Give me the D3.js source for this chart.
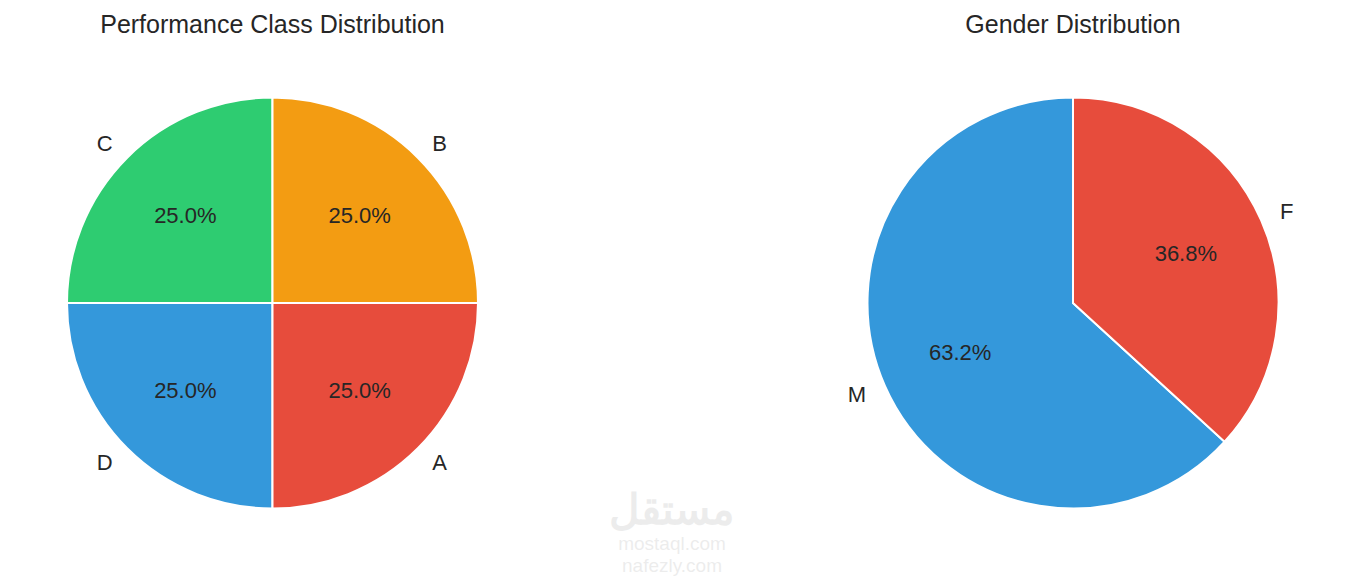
<!DOCTYPE html>
<html><head><meta charset="utf-8">
<script src="https://cdn.jsdelivr.net/npm/d3@7"></script>
<style>
body{margin:0;background:#fff;}
svg{display:block;font-family:"Liberation Sans",Arial,Helvetica,sans-serif;}
</style></head>
<body>
<svg id="chart" width="1345" height="576"></svg>
<script>
const perfCategories = ["C", "D", "A", "B"];
const perfValues = [25, 25, 25, 25];
const perfColors = ["#2ecc71", "#3498db", "#e74c3c", "#f39c12"];
const genderCategories = ["M", "F"];
const genderValues = [63.2, 36.8];
const genderColors = ["#3498db", "#e74c3c"];

const svg = d3.select("#chart");
const R = 205.5;

function drawPie(cx, cy, title, cats, vals, colors) {
  const g = svg.append("g").attr("transform", `translate(${cx},${cy})`);
  const data = cats.map((c, i) => ({cat: c, val: vals[i], color: colors[i]}));
  const pie = d3.pie().sort(null).value(d => d.val).startAngle(0).endAngle(-2 * Math.PI);
  const arcs = pie(data);
  const arc = d3.arc().innerRadius(0).outerRadius(R);
  const pctArc = d3.arc().innerRadius(R * 0.6).outerRadius(R * 0.6);
  const total = d3.sum(vals);
  g.selectAll("path.w").data(arcs).join("path")
    .attr("d", arc).attr("fill", d => d.data.color)
    .attr("stroke", "#fff").attr("stroke-width", 2).attr("stroke-linejoin", "round");
  g.selectAll("text.pct").data(arcs).join("text")
    .attr("x", d => pctArc.centroid(d)[0]).attr("y", d => pctArc.centroid(d)[1])
    .attr("text-anchor", "middle").attr("dominant-baseline", "central")
    .attr("font-size", 22).attr("fill", "#262626")
    .text(d => (d.data.val / total * 100).toFixed(1) + "%");
  g.selectAll("text.lab").data(arcs).join("text")
    .each(function(d) {
      const a = (d.startAngle + d.endAngle) / 2;
      const x = Math.sin(a) * R * 1.1, y = -Math.cos(a) * R * 1.1;
      d3.select(this).attr("x", x).attr("y", y)
        .attr("text-anchor", x >= 0 ? "start" : "end");
    })
    .attr("dominant-baseline", "central")
    .attr("font-size", 22).attr("fill", "#262626")
    .text(d => d.data.cat);
  svg.append("text").attr("x", cx).attr("y", 33).attr("text-anchor", "middle")
    .attr("font-size", 25).attr("fill", "#262626").text(title);
}

drawPie(272.5, 303, "Performance Class Distribution", perfCategories, perfValues, perfColors);
drawPie(1073, 303, "Gender Distribution", genderCategories, genderValues, genderColors);

// faint watermark
const wm = svg.append("g").attr("fill", "#000").attr("opacity", 0.07).attr("text-anchor", "middle");
wm.append("text").attr("x", 672).attr("y", 524).attr("font-size", 42).attr("font-weight", "bold").text("مستقل");
wm.append("text").attr("x", 672).attr("y", 550).attr("font-size", 19).text("mostaql.com");
wm.append("text").attr("x", 672).attr("y", 572).attr("font-size", 19).text("nafezly.com");
</script>
</body></html>
